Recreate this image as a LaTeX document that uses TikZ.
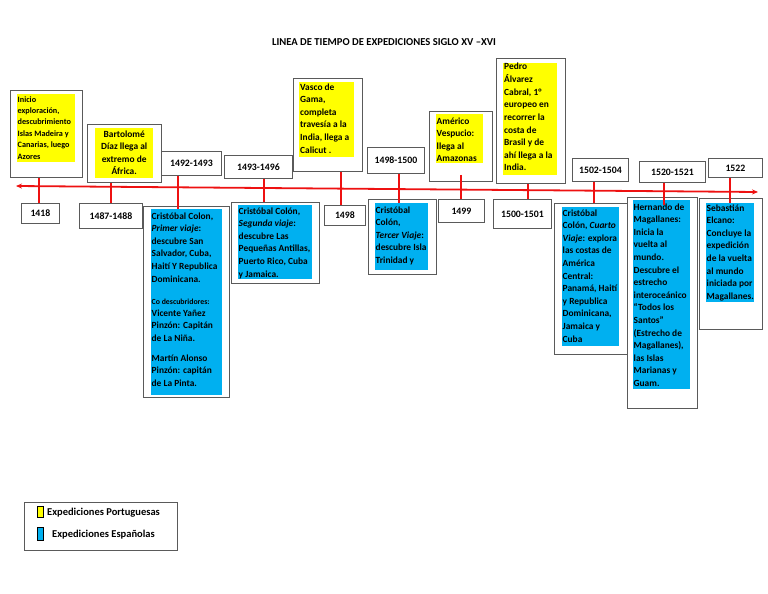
\documentclass[tikz,border=0pt]{standalone}
\usepackage{fontspec}
\setmainfont{Carlito}
\usetikzlibrary{arrows.meta}
\definecolor{ybox}{HTML}{FFFF00}
\definecolor{bbox}{HTML}{00B0F0}
\definecolor{tlred}{HTML}{EE1111}
\definecolor{edge}{HTML}{5A5A5A}
\begin{document}
\begin{tikzpicture}[x=1pt,y=-1pt,
  obox/.style={draw=edge,line width=0.9pt,fill=white,inner sep=0pt,anchor=north west},
  yf/.style={fill=ybox,inner sep=0pt,anchor=north west},
  bf/.style={fill=bbox,inner sep=0pt,anchor=north west},
  txt/.style={anchor=base west,inner sep=0pt,text width=90pt,align=flush left,font=\bfseries\fontsize{9.4}{12.6}\selectfont},
  yr/.style={draw=edge,line width=0.9pt,fill=white,inner sep=0pt,anchor=north west,font=\bfseries\fontsize{9.8}{11}\selectfont},
  tick/.style={draw=tlred,line width=1.6pt},
  tl/.style={draw=tlred,line width=1.8pt,{Stealth[length=6pt,width=5pt]}-{Stealth[length=6pt,width=5pt]}},
  sw/.style={draw=black,line width=0.8pt,inner sep=0pt,anchor=north west,minimum width=6pt},
  lg/.style={anchor=base west,inner sep=0pt,font=\bfseries\fontsize{10.5}{11}\selectfont},
]
\useasboundingbox (0,0) rectangle (768,594);
\fill[white] (0,0) rectangle (768,594);

% title
\node[anchor=base,inner sep=0pt,font=\bfseries\fontsize{10.6}{12}\selectfont] (title) at (384,46) {LINEA DE TIEMPO DE EXPEDICIONES SIGLO XV –XVI};

% timeline
\coordinate (L) at (16,186);
\coordinate (R) at (758,192);
\draw[tl] (L) -- (R);

% ---------- top row ----------
\node[obox,minimum width=72pt,minimum height=87pt] (b1) at (10,90) {};
\node[yf,minimum width=58pt,minimum height=68pt] (f1) at (17,94) {};
\node[txt,font=\bfseries\fontsize{8.2}{11.4}\selectfont] (t1) at (17.5,102) {Inicio\\exploración,\\descubrimiento\\Islas Madeira y\\Canarias, luego\\Azores};

\node[obox,minimum width=74pt,minimum height=58pt] (b2) at (87,124) {};
\node[yf,minimum width=58pt,minimum height=50pt] (f2) at (95,128) {};
\node[txt,text width=58pt,align=flush center] (t2) at (95,137) {Bartolomé\\Díaz llega al\\extremo de\\África.};

\node[yr,minimum width=60pt,minimum height=24pt] (yA) at (161,151) {1492-1493};
\node[yr,minimum width=68pt,minimum height=23pt] (yB) at (224,155) {1493-1496};

\node[obox,minimum width=69pt,minimum height=93pt] (b5) at (293,78) {};
\node[yf,minimum width=55pt,minimum height=75pt] (f5) at (299,82) {};
\node[txt] (t5) at (300,90) {Vasco de\\Gama,\\completa\\travesía a la\\India, llega a\\Calicut .};

\node[yr,minimum width=57pt,minimum height=26pt] (yC) at (367,147) {1498-1500};

\node[obox,minimum width=63pt,minimum height=70pt] (b8) at (429,111) {};
\node[yf,minimum width=47pt,minimum height=49pt] (f8) at (436,114) {};
\node[txt] (t8) at (436.5,124) {Américo\\Vespucio:\\llega al\\Amazonas};

\node[obox,minimum width=69pt,minimum height=125pt] (b9) at (496,58) {};
\node[yf,minimum width=54pt,minimum height=112pt] (f9) at (503,63) {};
\node[txt] (t9) at (504,70) {Pedro\\Álvarez\\Cabral, 1°\\europeo en\\recorrer la\\costa de\\Brasil y de\\ahí llega a la\\India.};

\node[yr,minimum width=56pt,minimum height=23pt] (yD) at (572,158) {1502-1504};
\node[yr,minimum width=66pt,minimum height=21pt] (yE) at (639,161) {1520-1521};
\node[yr,minimum width=54pt,minimum height=19pt] (yF) at (708,158) {1522};

% ---------- bottom row ----------
\node[yr,minimum width=38pt,minimum height=20pt] (y1) at (21,203) {1418};
\node[yr,minimum width=63pt,minimum height=25pt] (y2) at (79,203) {1487-1488};

\node[obox,minimum width=86pt,minimum height=191pt] (c3) at (143,206) {};
\node[bf,minimum width=71pt,minimum height=186pt] (g3) at (151,209) {};
\node[txt] (u3) at (151.5,219) {Cristóbal Colon,\\\textit{Primer viaje}:\\descubre San\\Salvador, Cuba,\\Haití Y Republica\\Dominicana.\\[9.4pt]{\fontsize{7.8}{12.6}\selectfont Co descubridores:}\\[-0.6pt]Vicente Yañez\\Pinzón: Capitán\\de La Niña.\\[7.4pt]Martín Alonso\\Pinzón: capitán\\de La Pinta.};

\node[obox,minimum width=88pt,minimum height=81pt] (c4) at (231,202) {};
\node[bf,minimum width=74pt,minimum height=74pt] (g4) at (238,205) {};
\node[txt] (u4) at (238.5,214) {Cristóbal Colón,\\\textit{Segunda viaje}:\\descubre Las\\Pequeñas Antillas,\\Puerto Rico, Cuba\\y Jamaica.};

\node[yr,minimum width=41pt,minimum height=20pt] (y5) at (324,205) {1498};

\node[obox,minimum width=68pt,minimum height=75pt] (c6) at (368,199) {};
\node[bf,minimum width=53pt,minimum height=67pt] (g6) at (375,203) {};
\begin{scope}
\clip (375,203) rectangle (428,270);
\node[txt] (u6) at (375.5,213) {Cristóbal\\Colón,\\\textit{Tercer Viaje}:\\descubre Isla\\Trinidad y};
\end{scope}

\node[yr,minimum width=46pt,minimum height=23pt] (y8) at (438,199) {1499};
\node[yr,minimum width=58pt,minimum height=29pt] (y9) at (493,199) {1500-1501};

\node[obox,minimum width=76pt,minimum height=151pt] (c10) at (554,203) {};
\node[bf,minimum width=57pt,minimum height=139pt] (g10) at (562,207) {};
\node[txt] (u10) at (562.5,216) {Cristóbal\\Colón, \textit{Cuarto}\\\textit{Viaje}: explora\\las costas de\\América\\Central:\\Panamá, Haití\\y Republica\\Dominicana,\\Jamaica y\\Cuba};

\node[obox,minimum width=70pt,minimum height=211pt] (c11) at (627,197) {};
\node[bf,minimum width=57pt,minimum height=189pt] (g11) at (633,200) {};
\node[txt] (u11) at (633.5,210) {Hernando de\\Magallanes:\\Inicia la\\vuelta al\\mundo.\\Descubre el\\estrecho\\interoceánico\\“Todos los\\Santos”\\(Estrecho de\\Magallanes),\\las Islas\\Marianas y\\Guam.};

\node[obox,minimum width=63pt,minimum height=131pt] (c12) at (699,198) {};
\node[bf,minimum width=48pt,minimum height=99pt] (g12) at (706,203) {};
\node[txt] (u12) at (706.5,211) {Sebastián\\Elcano:\\Concluye la\\expedición\\de la vuelta\\al mundo\\iniciada por\\Magallanes.};

% ---------- ticks ----------
\coordinate (k1) at (39,0);
\coordinate (k2) at (111,0);
\coordinate (k3) at (178,0);
\coordinate (k4) at (264,0);
\coordinate (k5) at (341,0);
\coordinate (k6) at (399,0);
\coordinate (k7) at (461,0);
\coordinate (k8) at (528,0);
\coordinate (k9) at (594,0);
\coordinate (k10) at (664,0);
\coordinate (k11) at (730,0);
\draw[tick] (b1.south -| k1) -- (y1.north -| k1);
\draw[tick] (b2.south -| k2) -- (y2.north -| k2);
\draw[tick] (yA.south -| k3) -- (g3.north -| k3);
\draw[tick] (yB.south -| k4) -- (c4.north -| k4);
\draw[tick] (b5.south -| k5) -- (y5.north -| k5);
\draw[tick] (yC.south -| k6) -- (g6.north -| k6);
\draw[tick] ([yshift=7pt]b8.south -| k7) -- (y8.north -| k7);
\draw[tick] (b9.south -| k8) -- (y9.north -| k8);
\draw[tick] (yD.south -| k9) -- (c10.north -| k9);
\draw[tick] (yE.south -| k10) -- ([yshift=-5pt]g11.north -| k10);
\draw[tick] (yF.south -| k11) -- (g12.north -| k11);

% ---------- legend ----------
\node[obox,minimum width=153pt,minimum height=48pt] (leg) at (24,502) {};
\node[sw,fill=ybox,minimum height=11pt] (sy) at (37,506) {};
\node[sw,fill=bbox,minimum height=13pt] (sb) at (37,527) {};
\node[lg] (ly) at (47,515) {Expediciones Portuguesas};
\node[lg] (lb) at (52,537) {Expediciones Españolas};
\end{tikzpicture}
\end{document}
